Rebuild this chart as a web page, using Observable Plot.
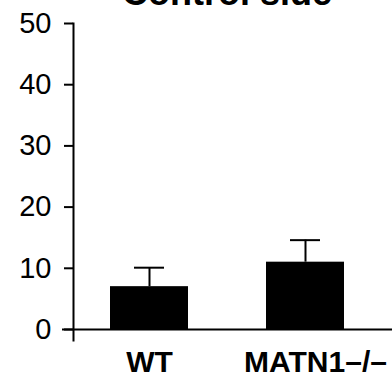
<!DOCTYPE html>
<html>
<head>
<meta charset="utf-8">
<script src="https://cdn.jsdelivr.net/npm/d3@7"></script>
<script src="https://cdn.jsdelivr.net/npm/@observablehq/plot@0.6"></script>
<style>
  html, body { margin: 0; padding: 0; background: #fff; }
  #chart { width: 392px; height: 374px; overflow: hidden; }
</style>
</head>
<body>
<div id="chart"></div>
<script>
const title = "Control side";
const groups = ["WT", "MATN1–/–"];
const means = [7.0, 11.0];
const errors = [3.1, 3.6];
const yTicks = [0, 10, 20, 30, 40, 50];

const data = groups.map((g, i) => ({group: g, mean: means[i], top: means[i] + errors[i]}));

const plot = Plot.plot({
  width: 392,
  height: 374,
  marginLeft: 73,
  marginRight: 12,
  marginTop: 23,
  marginBottom: 45,
  style: {fontFamily: "'Liberation Sans', Arial, sans-serif", color: "#000", background: "#fff"},
  x: {domain: groups, paddingInner: 0.5, paddingOuter: 0.23, axis: null, label: null},
  y: {domain: [0, 50], axis: null, label: null},
  marks: [
    Plot.barY(data, {x: "group", y: "mean", fill: "#000"}),
    Plot.ruleX(data, {x: "group", y1: "mean", y2: "top", stroke: "#000", strokeWidth: 2}),
    Plot.tickY(data, {x: "group", y: "top", stroke: "#000", strokeWidth: 2, insetLeft: 24, insetRight: 24}),
    Plot.frame({anchor: "left", stroke: "#000", strokeWidth: 2, insetBottom: -11}),
    Plot.ruleY([0], {stroke: "#000", strokeWidth: 2, insetLeft: -11, insetRight: -12}),
    Plot.axisY(yTicks, {tickSize: 9, tickPadding: 13, fontSize: 29, strokeWidth: 2, stroke: "#000", fill: "#000", label: null}),
    Plot.axisX([groups[0]], {tickSize: 0, tickPadding: 21, fontSize: 30, fontWeight: "bold", fill: "#000", label: null}),
    Plot.axisX([groups[1]], {tickSize: 0, tickPadding: 21, fontSize: 30, fontWeight: "bold", fill: "#000", dx: 10, label: null}),
    Plot.text([title], {frameAnchor: "top", lineAnchor: "bottom", dy: -19, fontSize: 36, fontWeight: "bold", fill: "#000"})
  ]
});
document.getElementById("chart").appendChild(plot);
</script>
</body>
</html>
